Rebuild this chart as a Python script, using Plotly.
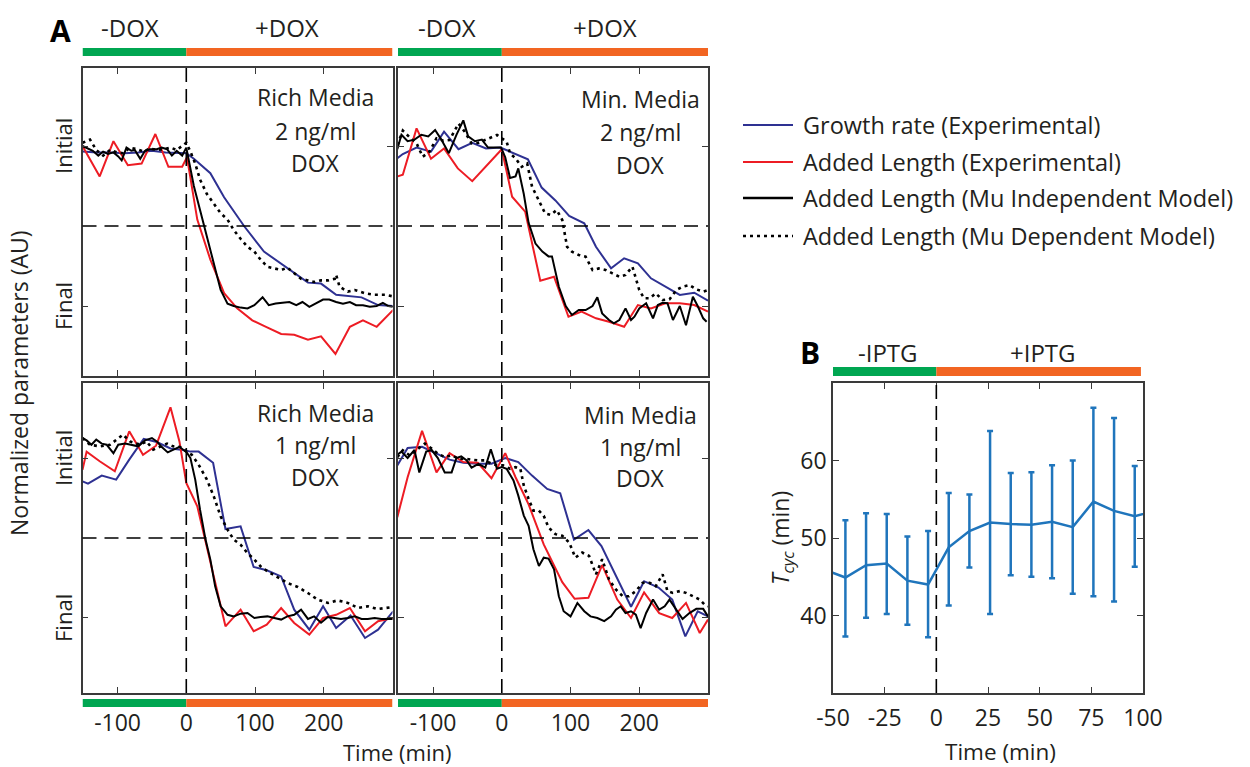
import plotly.graph_objects as go

W, H = 1250, 767
FONT = "Open Sans"
TXT = "#231F20"
BLUE = "#2E3192"
RED = "#ED1C24"
BLK = "#000000"
GREEN = "#00A651"
ORANGE = "#F26522"
EBLUE = "#1F75BC"
FRAME = "#3A3A3A"

# ---------------- Panel A data (time in min, normalized value: 1 = Initial, 0 = Final) ----------------
# Top-left: Rich Media, 2 ng/ml DOX
TL_BLUE_T = [-151, -130, -110, -90, -70, -50, -30, -10, 0, 11, 35, 55, 84, 113, 147, 177, 196, 218, 255, 279, 301]
TL_BLUE_V = [0.965, 0.96, 0.96, 0.955, 0.96, 0.97, 0.96, 0.955, 0.955, 0.92, 0.83, 0.68, 0.50, 0.34, 0.235, 0.146, 0.14, 0.07, 0.054, 0.006, 0.0]
TL_RED_T = [-151, -126, -106, -85, -65, -45, -26, -6, 1, 16, 35, 55, 74, 96, 116, 138, 157, 177, 196, 217, 238, 257, 277, 301]
TL_RED_V = [1.0, 0.81, 1.03, 0.88, 0.89, 1.075, 0.87, 0.87, 0.93, 0.54, 0.29, 0.08, -0.015, -0.09, -0.13, -0.175, -0.18, -0.21, -0.19, -0.30, -0.13, -0.09, -0.13, -0.025]
TL_IND_T = [-151, -143, -136, -128, -121, -114, -106, -99, -94, -87, -80, -75, -67, -60, -53, -43, -36, -28, -21, -14, -6, 0,
            3, 11, 20, 30, 40, 50, 60, 69, 79, 89, 99, 111, 120, 130, 140, 150, 160, 169, 179, 189, 199, 208, 218, 228, 238, 247, 257, 267, 277, 286, 294, 301]
TL_IND_V = [1.0, 0.985, 0.97, 0.94, 0.965, 0.95, 0.96, 0.935, 0.91, 0.99, 0.97, 0.975, 0.92, 0.97, 0.98, 0.98, 0.99, 0.98, 0.94, 0.97, 0.94, 0.99,
            0.93, 0.75, 0.60, 0.43, 0.27, 0.10, 0.015, 0.0, -0.01, -0.015, 0.005, 0.055, 0.005, 0.015, 0.02, 0.025, 0.005, 0.025, -0.005, 0.015, 0.04, 0.04, 0.025, 0.015, 0.025, 0.005, 0.005, -0.005, 0.0, 0.02, 0.0, -0.005]
TL_DEP_T = [-151, -140, -131, -121, -111, -101, -92, -82, -72, -62, -53, -43, -33, -23, -14, -6, 0, 6, 13, 20, 30, 40, 50, 60, 69, 79, 89, 99,
            108, 118, 128, 138, 147, 157, 167, 177, 186, 196, 206, 216, 218, 223, 235, 245, 260, 274, 289, 301]
TL_DEP_V = [1.02, 1.04, 0.975, 0.94, 0.975, 0.96, 0.955, 0.99, 0.98, 0.965, 0.985, 0.975, 0.98, 0.99, 0.975, 1.0, 1.02, 0.965, 0.89, 0.79, 0.70, 0.64, 0.58, 0.54, 0.475, 0.42, 0.37, 0.34,
            0.29, 0.245, 0.235, 0.225, 0.24, 0.205, 0.17, 0.16, 0.15, 0.16, 0.16, 0.17, 0.195, 0.12, 0.09, 0.10, 0.08, 0.07, 0.07, 0.06]

# Top-right: Min. Media, 2 ng/ml DOX
TR_BLUE_T = [-152, -144, -124, -103, -84, -63, -43, -23, -2, 17, 38, 58, 78, 98, 120, 137, 159, 178, 198, 217, 238, 259, 280, 300]
TR_BLUE_V = [0.923, 0.95, 0.99, 0.965, 1.09, 0.98, 1.02, 0.985, 0.99, 0.954, 0.917, 0.74, 0.66, 0.5625, 0.517, 0.37, 0.235, 0.298, 0.267, 0.173, 0.12, 0.069, 0.083, 0.033]
TR_RED_T = [-152, -144, -124, -103, -84, -64, -43, -23, 0, 15, 34, 56, 76, 97, 116, 137, 156, 178, 198, 217, 238, 259, 280, 300]
TR_RED_V = [0.81, 0.82, 1.11, 0.92, 0.985, 0.86, 0.78, 0.875, 0.98, 0.683, 0.59, 0.158, 0.183, -0.067, -0.035, -0.077, -0.098, -0.13, 0.006, -0.015, 0.017, 0.017, 0.006, -0.035]
TR_IND_T = [-152, -146, -137, -127, -117, -107, -97, -88, -77, -66, -56, -49, -39, -29, -20, -10, -1, 5, 12, 20, 24, 32, 39, 49, 59, 68, 73, 83, 93,
            102, 112, 122, 132, 139, 146, 156, 163, 171, 180, 188, 193, 200, 210, 220, 227, 234, 241, 249, 259, 268, 278, 285, 293, 298]
TR_IND_V = [0.98, 1.07, 1.03, 1.04, 1.07, 1.06, 1.10, 1.04, 0.955, 1.07, 1.16, 1.06, 1.03, 1.04, 0.99, 0.99, 0.99, 0.93, 0.80, 0.81, 0.86, 0.70, 0.52, 0.39, 0.34, 0.31, 0.31, 0.12, 0.0,
            -0.056, -0.025, -0.025, 0.0, 0.054, -0.046, -0.0875, -0.108, -0.0875, -0.015, -0.0875, -0.067, -0.015, 0.017, -0.077, 0.006, 0.02, 0.017, -0.0875, 0.0, -0.12, 0.058, 0.0, -0.077, -0.098]
TR_DEP_T = [-152, -144, -134, -124, -115, -105, -95, -85, -76, -63, -54, -44, -34, -24, -15, -7, 0, 7, 12, 20, 29, 37, 44, 54, 63, 71, 80, 88, 95,
            102, 112, 122, 132, 141, 151, 161, 171, 180, 190, 200, 207, 215, 224, 234, 244, 254, 263, 273, 283, 293, 300]
TR_DEP_V = [1.006, 1.096, 1.054, 1.017, 0.933, 0.965, 1.048, 1.033, 1.0375, 1.14, 1.09, 1.017, 1.02, 1.0375, 1.054, 1.069, 1.048, 1.027, 0.954, 0.923, 0.87, 0.89, 0.746, 0.6625, 0.579, 0.569, 0.60, 0.5375, 0.37,
            0.34, 0.319, 0.308, 0.225, 0.235, 0.225, 0.204, 0.183, 0.194, 0.246, 0.10, 0.048, 0.048, 0.079, 0.0375, 0.042, 0.10, 0.121, 0.131, 0.104, 0.09, 0.10]

# Bottom-left: Rich Media, 1 ng/ml DOX
BL_BLUE_T = [-151, -143, -123, -102, -83, -62, -43, -23, -4, 6, 18, 39, 57, 79, 98, 117, 138, 157, 179, 199, 218, 239, 260, 279, 301]
BL_BLUE_V = [0.854, 0.84, 0.89, 0.865, 0.99, 1.12, 1.10, 1.06, 1.05, 1.04, 1.04, 0.97, 0.556, 0.573, 0.319, 0.298, 0.26, 0.052, -0.073, 0.073, -0.0625, 0.015, -0.125, -0.073, 0.042]
BL_RED_T = [-151, -145, -126, -104, -83, -63, -44, -23, -10, 0, 16, 35, 57, 79, 98, 117, 138, 157, 179, 199, 218, 238, 260, 279, 301]
BL_RED_V = [0.927, 1.04, 0.98, 0.917, 1.167, 1.02, 1.077, 1.317, 1.104, 0.844, 0.698, 0.344, -0.052, 0.052, -0.083, -0.042, 0.0625, -0.031, -0.104, 0.0, 0.02, 0.0625, -0.083, -0.02, 0.0]
BL_IND_T = [-151, -145, -138, -131, -123, -116, -106, -99, -89, -80, -70, -60, -50, -42, -36, -27, -19, -10, -4, 0, 6, 13, 20, 28, 35, 42, 50, 60, 69,
            79, 89, 99, 108, 118, 128, 138, 147, 157, 167, 177, 186, 196, 206, 216, 225, 235, 245, 255, 264, 274, 284, 301]
BL_IND_V = [1.125, 1.11, 1.083, 1.115, 1.09, 1.083, 1.03, 1.083, 1.09, 1.083, 1.073, 1.11, 1.125, 1.10, 1.07, 1.035, 1.05, 1.07, 1.05, 1.04, 1.0, 0.865, 0.677, 0.49, 0.365, 0.198, 0.073, 0.02, 0.01,
            0.027, 0.031, 0.0, 0.006, 0.01, 0.0, -0.01, 0.01, 0.02, 0.052, -0.006, 0.01, -0.03, 0.006, 0.0, -0.006, 0.0, 0.01, -0.006, -0.006, 0.0, -0.006, -0.006]
BL_DEP_T = [-151, -140, -126, -111, -92, -82, -67, -58, -48, -38, -28, -19, -9, 0, 8, 18, 30, 40, 50, 60, 69, 79, 89, 99,
            108, 118, 128, 138, 147, 162, 177, 191, 206, 220, 235, 250, 264, 279, 294, 301]
BL_DEP_V = [1.125, 1.083, 1.073, 1.083, 1.146, 1.104, 1.083, 1.104, 1.052, 1.073, 1.09, 1.073, 1.069, 1.04, 1.02, 0.958, 0.865, 0.76, 0.635, 0.552, 0.49, 0.458, 0.406, 0.365,
            0.323, 0.292, 0.265, 0.24, 0.219, 0.194, 0.156, 0.115, 0.094, 0.11, 0.094, 0.0625, 0.073, 0.056, 0.0625, 0.069]

# Bottom-right: Min Media, 1 ng/ml DOX
BR_BLUE_T = [-152, -137, -116, -95, -76, -56, -35, -15, 5, 24, 44, 66, 85, 105, 126, 145, 166, 188, 207, 228, 248, 267, 285, 300]
BR_BLUE_V = [0.954, 1.063, 1.07, 1.03, 0.99, 0.97, 0.964, 0.964, 1.0, 0.975, 0.89, 0.807, 0.78, 0.49, 0.55, 0.45, 0.26, 0.07, 0.23, 0.19, 0.115, -0.115, 0.042, 0.01]
BR_RED_T = [-152, -137, -116, -95, -76, -56, -35, -15, 5, 20, 39, 61, 88, 106, 126, 146, 168, 188, 207, 229, 248, 268, 288, 300]
BR_RED_V = [0.63, 0.88, 1.17, 0.91, 1.03, 0.975, 0.97, 0.874, 1.03, 0.88, 0.71, 0.46, 0.224, 0.12, 0.126, 0.33, 0.115, 0.0, 0.16, 0.03, 0.0, 0.094, -0.094, -0.01]
BR_IND_T = [-152, -146, -137, -127, -120, -110, -102, -93, -83, -73, -66, -59, -51, -44, -34, -24, -16, -7, 0, 7, 17, 24, 32, 39, 46, 54, 61, 68, 76, 83, 90,
            100, 110, 120, 129, 139, 149, 159, 166, 173, 180, 188, 195, 202, 210, 220, 229, 237, 244, 254, 263, 273, 283, 293, 300]
BR_IND_V = [1.02, 1.04, 1.0, 1.05, 0.91, 1.04, 1.05, 1.0, 0.91, 0.91, 1.0, 1.01, 0.985, 0.94, 0.964, 0.94, 1.055, 0.933, 0.943, 0.933, 0.86, 0.765, 0.64, 0.576, 0.43, 0.325, 0.377, 0.371, 0.304, 0.136, 0.042,
            0.01, 0.094, 0.042, 0.01, 0.0, -0.02, 0.01, 0.052, 0.073, 0.031, 0.042, 0.021, -0.063, 0.031, 0.115, 0.052, 0.073, 0.115, 0.052, -0.006, 0.031, 0.057, 0.057, 0.01]
BR_DEP_T = [-152, -144, -134, -124, -112, -102, -93, -83, -73, -63, -54, -44, -34, -24, -15, -5, 2, 12, 20, 27, 32, 39, 46, 54, 61, 68, 78, 88, 98,
            107, 117, 127, 137, 146, 156, 166, 176, 185, 195, 205, 215, 224, 234, 241, 249, 259, 268, 278, 288, 295, 300]
BR_DEP_V = [1.006, 1.048, 1.017, 1.048, 1.09, 1.059, 1.027, 1.006, 1.017, 0.996, 0.996, 0.99, 0.985, 0.985, 0.964, 0.954, 0.954, 0.933, 0.943, 0.933, 0.828, 0.744, 0.671, 0.671, 0.639, 0.566, 0.524, 0.514, 0.472,
            0.377, 0.409, 0.388, 0.273, 0.367, 0.241, 0.178, 0.136, 0.136, 0.168, 0.22, 0.22, 0.199, 0.273, 0.168, 0.157, 0.168, 0.157, 0.136, 0.115, 0.084, 0.073]

# ---------------- Panel B data ----------------
B_T = [-54, -44, -34, -24, -14, -4, 6, 16, 26, 36, 46, 56, 66, 76, 86, 96, 106]
B_MEAN = [45.9, 44.9, 46.5, 46.7, 44.5, 44.0, 48.8, 50.9, 52.0, 51.8, 51.7, 52.1, 51.4, 54.7, 53.5, 52.8, 53.55]
B_UPPER = [45.9, 52.3, 53.2, 53.1, 50.2, 50.9, 55.8, 55.6, 63.8, 58.4, 58.5, 59.4, 60.0, 66.8, 65.5, 59.3, 53.55]
B_LOWER = [45.9, 37.3, 39.7, 40.2, 38.8, 37.2, 41.3, 46.2, 40.2, 45.2, 45.0, 44.8, 42.8, 42.5, 41.8, 46.3, 53.55]

A_XTICKS = [-100, 0, 100, 200]
B_XTICKS = [-50, -25, 0, 25, 50, 75, 100]
B_YTICKS = [40, 50, 60]

LEGEND_NAMES = ["Growth rate (Experimental)", "Added Length (Experimental)",
                "Added Length (Mu Independent Model)", "Added Length (Mu Dependent Model)"]

# ---------------- axis ranges ----------------
A_XR = [-151, 300]
TOP_YR = [-0.4375, 1.4875]
BOT_YR = [-0.469, 1.469]
B_XR = [-50, 100]
B_YR = [30, 70]


def px(x):
    return x / W


def py(y):
    return 1 - y / H


fig = go.Figure()

panels = [
    ("x", "y", TL_BLUE_T, TL_BLUE_V, TL_RED_T, TL_RED_V, TL_IND_T, TL_IND_V, TL_DEP_T, TL_DEP_V),
    ("x2", "y2", TR_BLUE_T, TR_BLUE_V, TR_RED_T, TR_RED_V, TR_IND_T, TR_IND_V, TR_DEP_T, TR_DEP_V),
    ("x3", "y3", BL_BLUE_T, BL_BLUE_V, BL_RED_T, BL_RED_V, BL_IND_T, BL_IND_V, BL_DEP_T, BL_DEP_V),
    ("x4", "y4", BR_BLUE_T, BR_BLUE_V, BR_RED_T, BR_RED_V, BR_IND_T, BR_IND_V, BR_DEP_T, BR_DEP_V),
]
for xa, ya, bt, bv, rt, rv, it, iv, dt, dv in panels:
    fig.add_trace(go.Scatter(x=bt, y=bv, xaxis=xa, yaxis=ya, mode="lines",
                             line=dict(color=BLUE, width=2), showlegend=False))
    fig.add_trace(go.Scatter(x=rt, y=rv, xaxis=xa, yaxis=ya, mode="lines",
                             line=dict(color=RED, width=2), showlegend=False))
    fig.add_trace(go.Scatter(x=it, y=iv, xaxis=xa, yaxis=ya, mode="lines",
                             line=dict(color=BLK, width=2), showlegend=False))
    fig.add_trace(go.Scatter(x=dt, y=dv, xaxis=xa, yaxis=ya, mode="lines",
                             line=dict(color=BLK, width=2.6, dash="3px,4px"), showlegend=False))

err_up = [u - m for u, m in zip(B_UPPER, B_MEAN)]
err_dn = [m - l for m, l in zip(B_MEAN, B_LOWER)]
fig.add_trace(go.Scatter(x=B_T, y=B_MEAN, xaxis="x5", yaxis="y5", mode="lines",
                         line=dict(color=EBLUE, width=2.5),
                         error_y=dict(type="data", array=err_up, arrayminus=err_dn, symmetric=False,
                                      color=EBLUE, thickness=2.5, width=3),
                         showlegend=False))

tickfont = dict(family=FONT, size=23, color=TXT)
common = dict(showline=True, mirror="ticks", linecolor=FRAME, linewidth=1.6, ticks="inside",
              ticklen=6, tickwidth=1.3, tickcolor=FRAME, showgrid=False, zeroline=False,
              tickfont=tickfont, fixedrange=True, automargin=False)

xdom_L = [px(82.5), px(392.5)]
xdom_R = [px(398), px(708)]
ydom_T = [py(376), py(68)]
ydom_B = [py(693), py(383)]

A_XTEXT = [str(v) for v in A_XTICKS]
B_XTEXT = [str(v) for v in B_XTICKS]
B_YTEXT = [str(v) for v in B_YTICKS]

layout_axes = dict(
    xaxis=dict(domain=xdom_L, range=A_XR, anchor="y", tickvals=A_XTICKS, showticklabels=False, **common),
    yaxis=dict(domain=ydom_T, range=TOP_YR, anchor="x", tickvals=[0, 1], showticklabels=False, **common),
    xaxis2=dict(domain=xdom_R, range=A_XR, anchor="y2", tickvals=A_XTICKS, showticklabels=False, **common),
    yaxis2=dict(domain=ydom_T, range=TOP_YR, anchor="x2", tickvals=[0, 1], showticklabels=False, **common),
    xaxis3=dict(domain=xdom_L, range=A_XR, anchor="y3", tickvals=A_XTICKS, ticktext=A_XTEXT,
                ticklabelstandoff=9, **common),
    yaxis3=dict(domain=ydom_B, range=BOT_YR, anchor="x3", tickvals=[0, 1], showticklabels=False, **common),
    xaxis4=dict(domain=xdom_R, range=A_XR, anchor="y4", tickvals=A_XTICKS, ticktext=A_XTEXT,
                ticklabelstandoff=9, **common),
    yaxis4=dict(domain=ydom_B, range=BOT_YR, anchor="x4", tickvals=[0, 1], showticklabels=False, **common),
    xaxis5=dict(domain=[px(833), px(1143)], range=B_XR, anchor="y5", tickvals=B_XTICKS, ticktext=B_XTEXT,
                ticklabelstandoff=4, **common),
    yaxis5=dict(domain=ydom_B, range=B_YR, anchor="x5", tickvals=B_YTICKS, ticktext=B_YTEXT,
                ticklabelstandoff=0, **common),
)

shapes = []
# dashed guide lines in panels A
for xa, ya in [("x", "y"), ("x2", "y2"), ("x3", "y3"), ("x4", "y4")]:
    shapes.append(dict(type="line", xref=xa, yref=ya + " domain", x0=0, x1=0, y0=0, y1=1,
                       line=dict(color=BLK, width=1.6, dash="14px,7px")))
    shapes.append(dict(type="line", xref=xa + " domain", yref=ya, x0=0, x1=1, y0=0.5, y1=0.5,
                       line=dict(color=BLK, width=1.6, dash="14px,8px")))
shapes.append(dict(type="line", xref="x5", yref="y5 domain", x0=0, x1=0, y0=0, y1=1,
                   line=dict(color=BLK, width=1.6, dash="14px,7px")))


def bars(xa, y0p, y1p, xr):
    return [dict(type="rect", xref=xa, yref="paper", x0=xr[0], x1=0, y0=py(y1p), y1=py(y0p),
                 fillcolor=GREEN, line=dict(width=0), layer="above"),
            dict(type="rect", xref=xa, yref="paper", x0=0, x1=xr[1], y0=py(y1p), y1=py(y0p),
                 fillcolor=ORANGE, line=dict(width=0), layer="above")]


shapes += bars("x", 48, 56, A_XR)
shapes += bars("x2", 48, 56, A_XR)
shapes += bars("x3", 699, 707, A_XR)
shapes += bars("x4", 699, 707, A_XR)
shapes += bars("x5", 367, 376, [B_XR[0], 99])

# legend sample lines
leg_y = [125, 162, 198, 236]
leg_styles = [dict(color=BLUE, width=2.2), dict(color=RED, width=2.2),
              dict(color=BLK, width=2.4), dict(color=BLK, width=2.6, dash="3px,4px")]
for yy, st in zip(leg_y, leg_styles):
    shapes.append(dict(type="line", xref="paper", yref="paper", x0=px(743), x1=px(793),
                       y0=py(yy), y1=py(yy), line=st))


def ann(text, x, y, size=23, bold=False, angle=0, xanchor="center", yref="paper", yval=None):
    return dict(text=("<b>%s</b>" % text) if bold else text, x=px(x), xref="paper",
                y=py(y) if yval is None else yval, yref=yref, showarrow=False,
                font=dict(family=FONT, size=size, color=TXT if not bold else "#000"),
                xanchor=xanchor, yanchor="middle", textangle=angle)


annotations = [
    ann("A", 60, 30, size=30, bold=True),
    ann("-DOX", 130, 28, size=24), ann("+DOX", 287, 28, size=24),
    ann("-DOX", 447, 28, size=24), ann("+DOX", 605, 28, size=24),
    ann("B", 810, 352, size=30, bold=True),
    ann("-IPTG", 888, 352, size=24), ann("+IPTG", 1043, 352, size=24),
    ann("Rich Media", 315, 97), ann("2 ng/ml", 315, 131), ann("DOX", 315, 163),
    ann("Min. Media", 640, 99), ann("2 ng/ml", 640, 132), ann("DOX", 640, 165),
    ann("Rich Media", 315, 413), ann("1 ng/ml", 315, 445), ann("DOX", 315, 477),
    ann("Min Media", 640, 415), ann("1 ng/ml", 640, 447), ann("DOX", 640, 478),
    ann("Normalized parameters (AU)", 19, 383, size=23, angle=-90),
    ann("Time (min)", 397, 752, size=22),
    ann("Time (min)", 1000, 751, size=22.5),
    ann("<i>T</i><sub><i>cyc</i></sub> (min)", 781, 538, size=23, angle=-90),
]
for yr in ["y", "y3"]:
    annotations.append(ann("Initial", 63, 0, size=22, angle=-90, yref=yr, yval=1))
    annotations.append(ann("Final", 63, 0, size=22, angle=-90, yref=yr, yval=0))
for yy, name in zip(leg_y, LEGEND_NAMES):
    annotations.append(ann(name, 801, yy, size=23.5, xanchor="left"))

fig.update_layout(template="none", width=W, height=H, margin=dict(l=0, r=0, t=0, b=0, pad=0),
                  paper_bgcolor="white", plot_bgcolor="white", showlegend=False,
                  font=dict(family=FONT, color=TXT), shapes=shapes, annotations=annotations,
                  **layout_axes)

fig.write_html("out.html")
